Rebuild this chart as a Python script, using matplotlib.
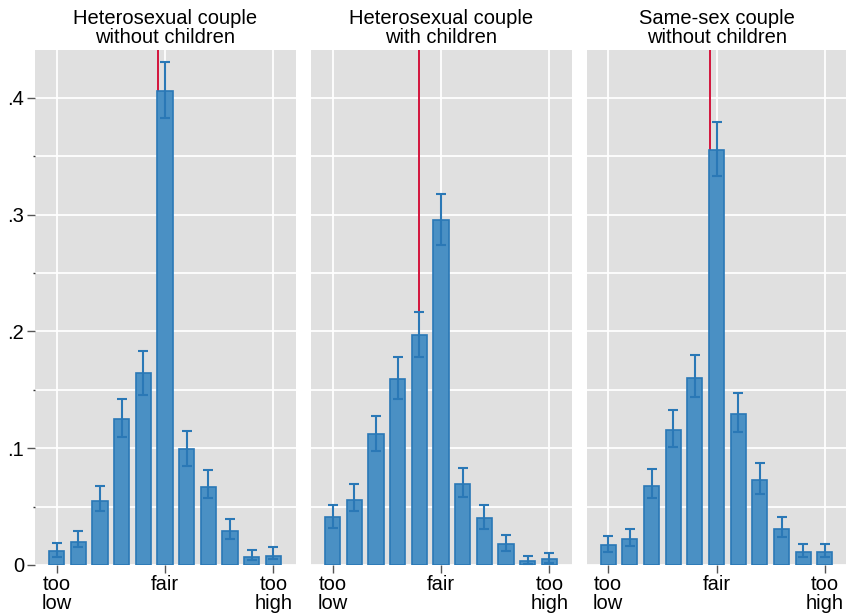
import matplotlib.pyplot as plt
from matplotlib.ticker import MultipleLocator

plt.rcParams["font.family"] = ["Liberation Sans", "DejaVu Sans"]

# fairness rating 1 (too low) .. 11 (too high)
ratings = list(range(1, 12))

titles = [
    "Heterosexual couple\nwithout children",
    "Heterosexual couple\nwith children",
    "Same-sex couple\nwithout children",
]

share_hetero_nokids = [0.012, 0.020, 0.055, 0.125, 0.164, 0.406, 0.099, 0.067, 0.029, 0.007, 0.008]
lo_hetero_nokids = [0.007, 0.015, 0.046, 0.110, 0.146, 0.383, 0.085, 0.057, 0.022, 0.004, 0.005]
hi_hetero_nokids = [0.019, 0.029, 0.068, 0.142, 0.183, 0.431, 0.115, 0.081, 0.039, 0.013, 0.015]

share_hetero_kids = [0.041, 0.056, 0.112, 0.159, 0.197, 0.295, 0.069, 0.040, 0.018, 0.003, 0.005]
lo_hetero_kids = [0.032, 0.046, 0.098, 0.142, 0.178, 0.274, 0.058, 0.031, 0.012, 0.001, 0.002]
hi_hetero_kids = [0.051, 0.069, 0.128, 0.178, 0.217, 0.318, 0.083, 0.051, 0.026, 0.008, 0.010]

share_samesex = [0.017, 0.022, 0.068, 0.116, 0.160, 0.355, 0.129, 0.073, 0.031, 0.011, 0.011]
lo_samesex = [0.011, 0.016, 0.057, 0.101, 0.144, 0.333, 0.114, 0.061, 0.024, 0.007, 0.007]
hi_samesex = [0.025, 0.031, 0.082, 0.133, 0.180, 0.379, 0.147, 0.087, 0.041, 0.018, 0.018]

# position of the red reference line in each panel
ref_line = [5.68, 4.98, 5.69]

tick_pos = [1, 6, 11]
tick_labels = ["too\nlow", "fair", "too\nhigh"]
ytick_pos = [0, 0.1, 0.2, 0.3, 0.4]
ytick_labels = ["0", ".1", ".2", ".3", ".4"]

panels = [
    (share_hetero_nokids, lo_hetero_nokids, hi_hetero_nokids),
    (share_hetero_kids, lo_hetero_kids, hi_hetero_kids),
    (share_samesex, lo_samesex, hi_samesex),
]

BG = "#e0e0e0"
FILL = "#4a90c4"
EDGE = "#2a78b6"
RED = "#d3143c"
FS = 14.5

fig = plt.figure(figsize=(8.46, 6.13), dpi=100)
lefts = [35 / 846, 311 / 846, 586.5 / 846]
for i, (share, lo, hi) in enumerate(panels):
    ax = fig.add_axes([lefts[i], 48 / 613, 260.5 / 846, 515 / 613])
    ax.set_facecolor(BG)
    for s in ax.spines.values():
        s.set_visible(False)

    ax.axvline(ref_line[i], color=RED, lw=1.4, zorder=1)
    ax.bar(ratings, share, width=0.7, color=FILL, edgecolor=EDGE, lw=1.2, zorder=2)
    yerr = [[s - l for s, l in zip(share, lo)], [h - s for s, h in zip(share, hi)]]
    ax.errorbar(ratings, share, yerr=yerr, fmt="none", ecolor=EDGE, elinewidth=1.5,
                capsize=3.8, capthick=1.5, zorder=3)

    ax.set_xlim(0, 12.02)
    ax.set_ylim(0, 0.441)
    ax.set_yticks(ytick_pos)
    ax.yaxis.set_minor_locator(MultipleLocator(0.05))
    ax.set_xticks(tick_pos)
    ax.set_xticklabels(tick_labels, fontsize=FS, linespacing=1.0)
    ax.tick_params(axis="x", length=6, width=1, color="#555555", pad=1)
    ax.grid(True, which="both", axis="y", color="white", lw=1.3, zorder=0)
    ax.grid(True, which="major", axis="x", color="white", lw=1.3, zorder=0)
    ax.set_axisbelow(True)
    if i == 0:
        ax.set_yticklabels(ytick_labels, fontsize=FS)
        ax.tick_params(axis="y", which="major", length=6, width=1, color="#555555", pad=2)
        ax.tick_params(axis="y", which="minor", length=1.5, width=1, color="#333333")
    else:
        ax.tick_params(axis="y", which="both", length=0, labelleft=False)
    ax.set_title(titles[i], fontsize=FS, pad=5, linespacing=1.03)

fig.savefig("out.png", dpi=100)
